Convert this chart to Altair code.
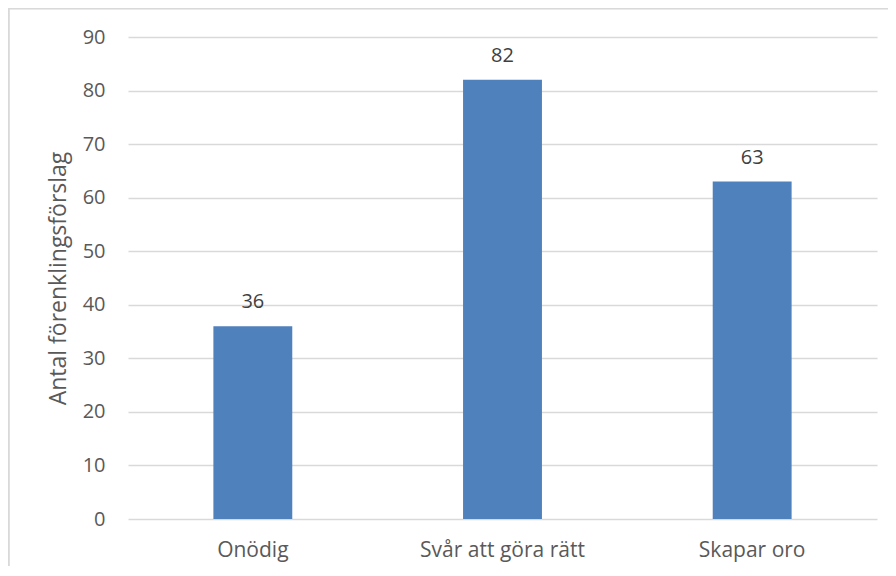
import altair as alt
import pandas as pd

categories = ["Onödig", "Svår att göra rätt", "Skapar oro"]
values = [36, 82, 63]
y_ticks = [0, 10, 20, 30, 40, 50, 60, 70, 80, 90]

df = pd.DataFrame({"kategori": categories, "antal": values})

W, H = 749, 482
FONT = "Open Sans"

x_enc = alt.X(
    "kategori:N",
    sort=categories,
    scale=alt.Scale(paddingInner=0.684, paddingOuter=0.342),
    axis=alt.Axis(
        title=None, labelAngle=0, labelFontSize=21, labelColor="#595959",
        labelFont=FONT, labelPadding=20, ticks=False, domain=False,
        labelBaseline="top",
    ),
)
y_enc = alt.Y(
    "antal:Q",
    scale=alt.Scale(domain=[0, 90], nice=False),
    axis=alt.Axis(
        values=y_ticks, title="Antal förenklingsförslag", titleFontSize=23,
        titleFont=FONT, titleColor="#595959", titleFontWeight="normal",
        titlePadding=12, labelFontSize=20, labelFont=FONT, labelColor="#595959",
        labelPadding=23, ticks=False, domain=False, grid=True,
        gridColor="#d9d9d9", gridWidth=1.3,
    ),
)

border = alt.Chart(df).mark_rect(
    fill=None, stroke="#d9d9d9", strokeWidth=1.5
).encode(
    x=alt.value(-119.3), x2=alt.value(900), y=alt.value(-28.5), y2=alt.value(700)
)

bars = alt.Chart(df).mark_bar(color="#4f81bd").encode(x=x_enc, y=y_enc)

labels = alt.Chart(df).mark_text(
    font=FONT, fontSize=20, color="#404040", baseline="alphabetic", dy=-18
).encode(
    x=alt.X("kategori:N", sort=categories),
    y=alt.Y("antal:Q"),
    text=alt.Text("antal:Q"),
)

chart = alt.layer(border, bars, labels).properties(
    width=W, height=H,
    autosize=alt.AutoSizeParams(type="none"),
    padding={"left": 120, "top": 29, "right": 11, "bottom": 47},
).configure_view(stroke=None)

chart.save("out.html", embed_options={"renderer": "svg", "actions": False})
